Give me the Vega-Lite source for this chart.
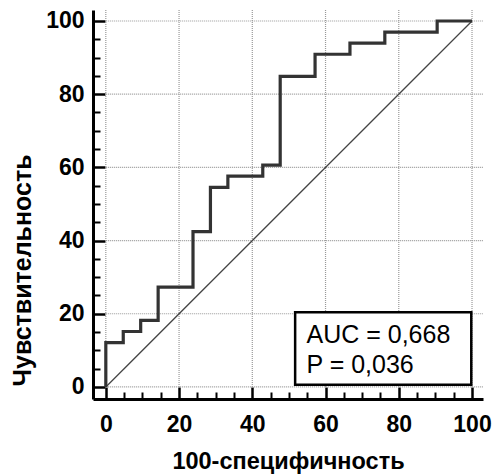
{
  "$schema": "https://vega.github.io/schema/vega-lite/v6.json",
  "width": 390,
  "height": 389,
  "autosize": {"type": "none"},
  "padding": {"left": 93, "top": 10, "right": 11, "bottom": 76},
  "background": "white",
  "config": {
    "view": {"stroke": null},
    "font": "Liberation Sans",
    "axis": {
      "grid": false,
      "domainColor": "black",
      "domainWidth": 3,
      "tickColor": "black",
      "tickWidth": 2.5,
      "labelColor": "black",
      "labelFont": "Liberation Sans",
      "labelFontSize": 23,
      "labelFontWeight": "bold",
      "titleColor": "black",
      "titleFont": "Liberation Sans",
      "titleFontWeight": "bold"
    }
  },
  "datasets": {
    "roc": [
      {"i": 0, "fpr": 0, "tpr": 0},
      {"i": 1, "fpr": 0, "tpr": 12.12},
      {"i": 2, "fpr": 4.76, "tpr": 15.15},
      {"i": 3, "fpr": 9.52, "tpr": 18.18},
      {"i": 4, "fpr": 14.29, "tpr": 27.27},
      {"i": 5, "fpr": 23.81, "tpr": 42.42},
      {"i": 6, "fpr": 28.57, "tpr": 54.55},
      {"i": 7, "fpr": 33.33, "tpr": 57.58},
      {"i": 8, "fpr": 42.86, "tpr": 60.61},
      {"i": 9, "fpr": 47.62, "tpr": 84.85},
      {"i": 10, "fpr": 57.14, "tpr": 90.91},
      {"i": 11, "fpr": 66.67, "tpr": 93.94},
      {"i": 12, "fpr": 76.19, "tpr": 96.97},
      {"i": 13, "fpr": 90.48, "tpr": 100},
      {"i": 14, "fpr": 100, "tpr": 100}
    ],
    "grid": [{"v": 0}, {"v": 20}, {"v": 40}, {"v": 60}, {"v": 80}, {"v": 100}],
    "diag": [{"fpr": 0, "tpr": 0}, {"fpr": 100, "tpr": 100}],
    "box": [{"x1": 51.7, "x2": 99.8, "y1": 0.6, "y2": 20.4}],
    "labels": [
      {"label": "AUC = 0,668", "x": 54.8, "y": 12.0},
      {"label": "P = 0,036", "x": 54.8, "y": 3.9}
    ]
  },
  "resolve": {"axis": {"x": "independent", "y": "independent"}},
  "layer": [
    {
      "data": {"name": "grid"},
      "mark": {"type": "rule", "color": "#999999", "strokeWidth": 1.2, "strokeDash": [1, 1]},
      "encoding": {
        "x": {"field": "v", "type": "quantitative", "scale": {"domain": [-3.5, 103], "nice": false, "zero": false}, "axis": null},
        "y": {"datum": 0, "type": "quantitative", "scale": {"domain": [-3.3, 103], "nice": false, "zero": false}, "axis": null},
        "y2": {"datum": 103}
      }
    },
    {
      "data": {"name": "grid"},
      "mark": {"type": "rule", "color": "#999999", "strokeWidth": 1.2, "strokeDash": [1, 1]},
      "encoding": {
        "y": {"field": "v", "type": "quantitative", "axis": null},
        "x": {"datum": 0, "type": "quantitative", "axis": null},
        "x2": {"datum": 103}
      }
    },
    {
      "data": {"name": "diag"},
      "mark": {"type": "line", "color": "#444444", "strokeWidth": 1.3},
      "encoding": {
        "x": {"field": "fpr", "type": "quantitative",
          "axis": {"orient": "bottom", "values": [5, 10, 15, 25, 30, 35, 45, 50, 55, 65, 70, 75, 85, 90, 95], "labels": false, "domain": false, "tickSize": -7, "title": null, "tickWidth": 2}},
        "y": {"field": "tpr", "type": "quantitative",
          "axis": {"orient": "left", "values": [5, 10, 15, 25, 30, 35, 45, 50, 55, 65, 70, 75, 85, 90, 95], "labels": false, "domain": false, "tickSize": -7, "title": null, "tickWidth": 2}}
      }
    },
    {
      "data": {"name": "roc"},
      "mark": {"type": "line", "color": "#333333", "strokeWidth": 3.2, "interpolate": "step-after"},
      "encoding": {
        "order": {"field": "i", "type": "quantitative"},
        "x": {"field": "fpr", "type": "quantitative",
          "axis": {"orient": "bottom", "values": [0, 20, 40, 60, 80, 100], "tickSize": -12, "labelPadding": 26, "title": "100-специфичность", "titleFontSize": 23.5, "titlePadding": 13}},
        "y": {"field": "tpr", "type": "quantitative",
          "axis": {"orient": "left", "values": [0, 20, 40, 60, 80, 100], "tickSize": -12, "labelPadding": 21, "title": "Чувствительность", "titleFontSize": 25, "titlePadding": 10, "titleY": 260}}
      }
    },
    {
      "data": {"name": "box"},
      "mark": {"type": "rect", "fill": "white", "stroke": "black", "strokeWidth": 2.5},
      "encoding": {
        "x": {"field": "x1", "type": "quantitative", "axis": null},
        "x2": {"field": "x2"},
        "y": {"field": "y1", "type": "quantitative", "axis": null},
        "y2": {"field": "y2"}
      }
    },
    {
      "data": {"name": "labels"},
      "mark": {"type": "text", "align": "left", "baseline": "alphabetic", "fontSize": 25, "font": "Liberation Sans", "color": "black"},
      "encoding": {
        "x": {"field": "x", "type": "quantitative", "axis": null},
        "y": {"field": "y", "type": "quantitative", "axis": null},
        "text": {"field": "label"}
      }
    }
  ]
}
